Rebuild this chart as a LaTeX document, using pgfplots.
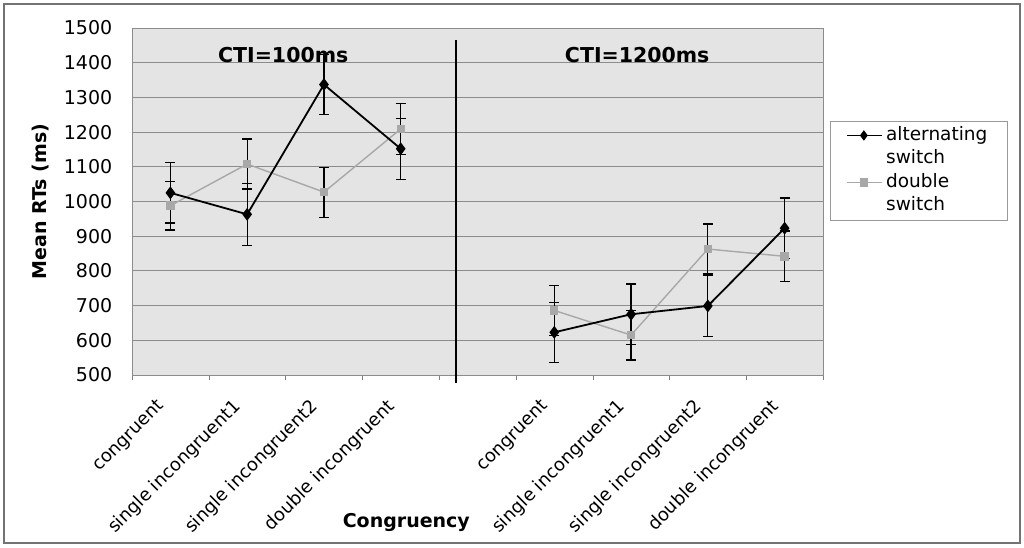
\documentclass[border=0pt]{standalone}
\usepackage{fontspec}
\setmainfont{DejaVu Sans}
\usepackage{pgfplots}
\pgfplotsset{compat=1.18}
\usepackage{pgfplotstable}

\pgfplotstableread{
x y e
0 1025 87
1 963 90
2 1337 87
3 1152 88
}\altL
\pgfplotstableread{
x y e
5 623 87
6 675 87
7 699 88
8 923 87
}\altR
\pgfplotstableread{
x y e
0 988 70
1 1108 72
2 1027 72
3 1209 74
}\dblL
\pgfplotstableread{
x y e
5 686 72
6 615 72
7 863 72
8 842 73
}\dblR

\definecolor{plotbg}{HTML}{E4E4E4}
\definecolor{gridc}{HTML}{8C8C8C}
\definecolor{dblc}{HTML}{A8A8A8}

\begin{document}
\fontsize{19}{22}\selectfont
\begin{tikzpicture}[x=1pt,y=1pt]
\useasboundingbox (0,0) rectangle (1024,547);
\fill[white] (0,0) rectangle (1024,547);
\draw[line width=1.5pt, black!55] (4,4) rectangle (1020,543);
\begin{axis}[
  at={(132pt,172pt)}, anchor=south west,
  scale only axis, width=691pt, height=347pt,
  xmin=-0.5, xmax=8.5, ymin=500, ymax=1500,
  clip=false,
  axis background/.style={fill=plotbg},
  axis line style={black!45, line width=0.8pt},
  ytick={500,600,...,1500},
  ymajorgrids, grid style={gridc, line width=0.9pt},
  ytick style={draw=none},
  yticklabel style={xshift=-9pt},
  /pgf/number format/assume math mode=true,
  /pgf/number format/set thousands separator={},
  xtick={0,1,2,3,5,6,7,8},
  xticklabels={congruent,single incongruent1,single incongruent2,double incongruent,congruent,single incongruent1,single incongruent2,double incongruent},
  major x tick style={draw=none},
  minor xtick={-0.5,0.5,...,8.5},
  minor x tick style={black!50},
  minor tick length=5pt,
  tick align=outside,
  xtick pos=bottom,
  xticklabel style={font=\fontsize{18}{21}\selectfont, rotate=45, anchor=east, xshift=-17pt, yshift=-11pt},
  every axis y label/.style={at={(axis description cs:-0.133,0.5)}, rotate=90, anchor=center, font=\bfseries},
  ylabel={Mean RTs (ms)},
  every axis x label/.style={at={(axis description cs:0.397,-0.424)}, anchor=center, font=\bfseries},
  xlabel={Congruency},
  legend style={at={(axis description cs:1.010,0.732)}, anchor=north west,
    draw=black!40, fill=white, inner xsep=16pt, inner ysep=3pt, row sep=1pt,
    font=\fontsize{18.5}{22}\selectfont,
    nodes={inner ysep=2pt, inner xsep=3.5pt, text height=14pt, text depth=4.5pt}},
  legend cell align=left,
  legend image code/.code={
    \draw[mark repeat=2,mark phase=2] plot coordinates {(0pt,0pt) (17pt,0pt) (35pt,0pt)};},
  error bars/y dir=both, error bars/y explicit,
  error bars/error bar style={black, line width=1.2pt},
  error bars/error mark options={rotate=90, mark size=5pt, line width=1.2pt, black},
]
% double switch (drawn first so alternating lies on top)
\addplot[dblc, line width=1.4pt, mark=square*, mark size=3.5pt, mark options={fill=dblc, draw=dblc}, forget plot]
  table[x=x, y=y, y error=e] {\dblL};
\addplot[dblc, line width=1.4pt, mark=square*, mark size=3.5pt, mark options={fill=dblc, draw=dblc}, forget plot]
  table[x=x, y=y, y error=e] {\dblR};
% alternating switch
\addplot[black, line width=1.8pt, mark=diamond*, mark size=5pt, mark options={fill=black}, forget plot]
  table[x=x, y=y, y error=e] {\altL};
\addplot[black, line width=1.8pt, mark=diamond*, mark size=5pt, mark options={fill=black}, forget plot]
  table[x=x, y=y, y error=e] {\altR};

\addlegendimage{black, line width=1.5pt, mark=diamond*, mark size=4pt, mark options={fill=black}}
\addlegendentry{alternating}
\addlegendimage{empty legend}
\addlegendentry{switch}
\addlegendimage{dblc, line width=1.2pt, mark=square*, mark size=3.5pt, mark options={fill=dblc, draw=dblc}}
\addlegendentry{double}
\addlegendimage{empty legend}
\addlegendentry{switch}

\draw[black, line width=1.2pt] (axis cs:3.72,1465) -- (axis cs:3.72,477);
\node[font=\fontsize{20.5}{24}\bfseries] at (axis cs:1.47,1422) {CTI=100ms};
\node[font=\fontsize{20.5}{24}\bfseries] at (axis cs:6.08,1422) {CTI=1200ms};
\end{axis}
\end{tikzpicture}
\end{document}
